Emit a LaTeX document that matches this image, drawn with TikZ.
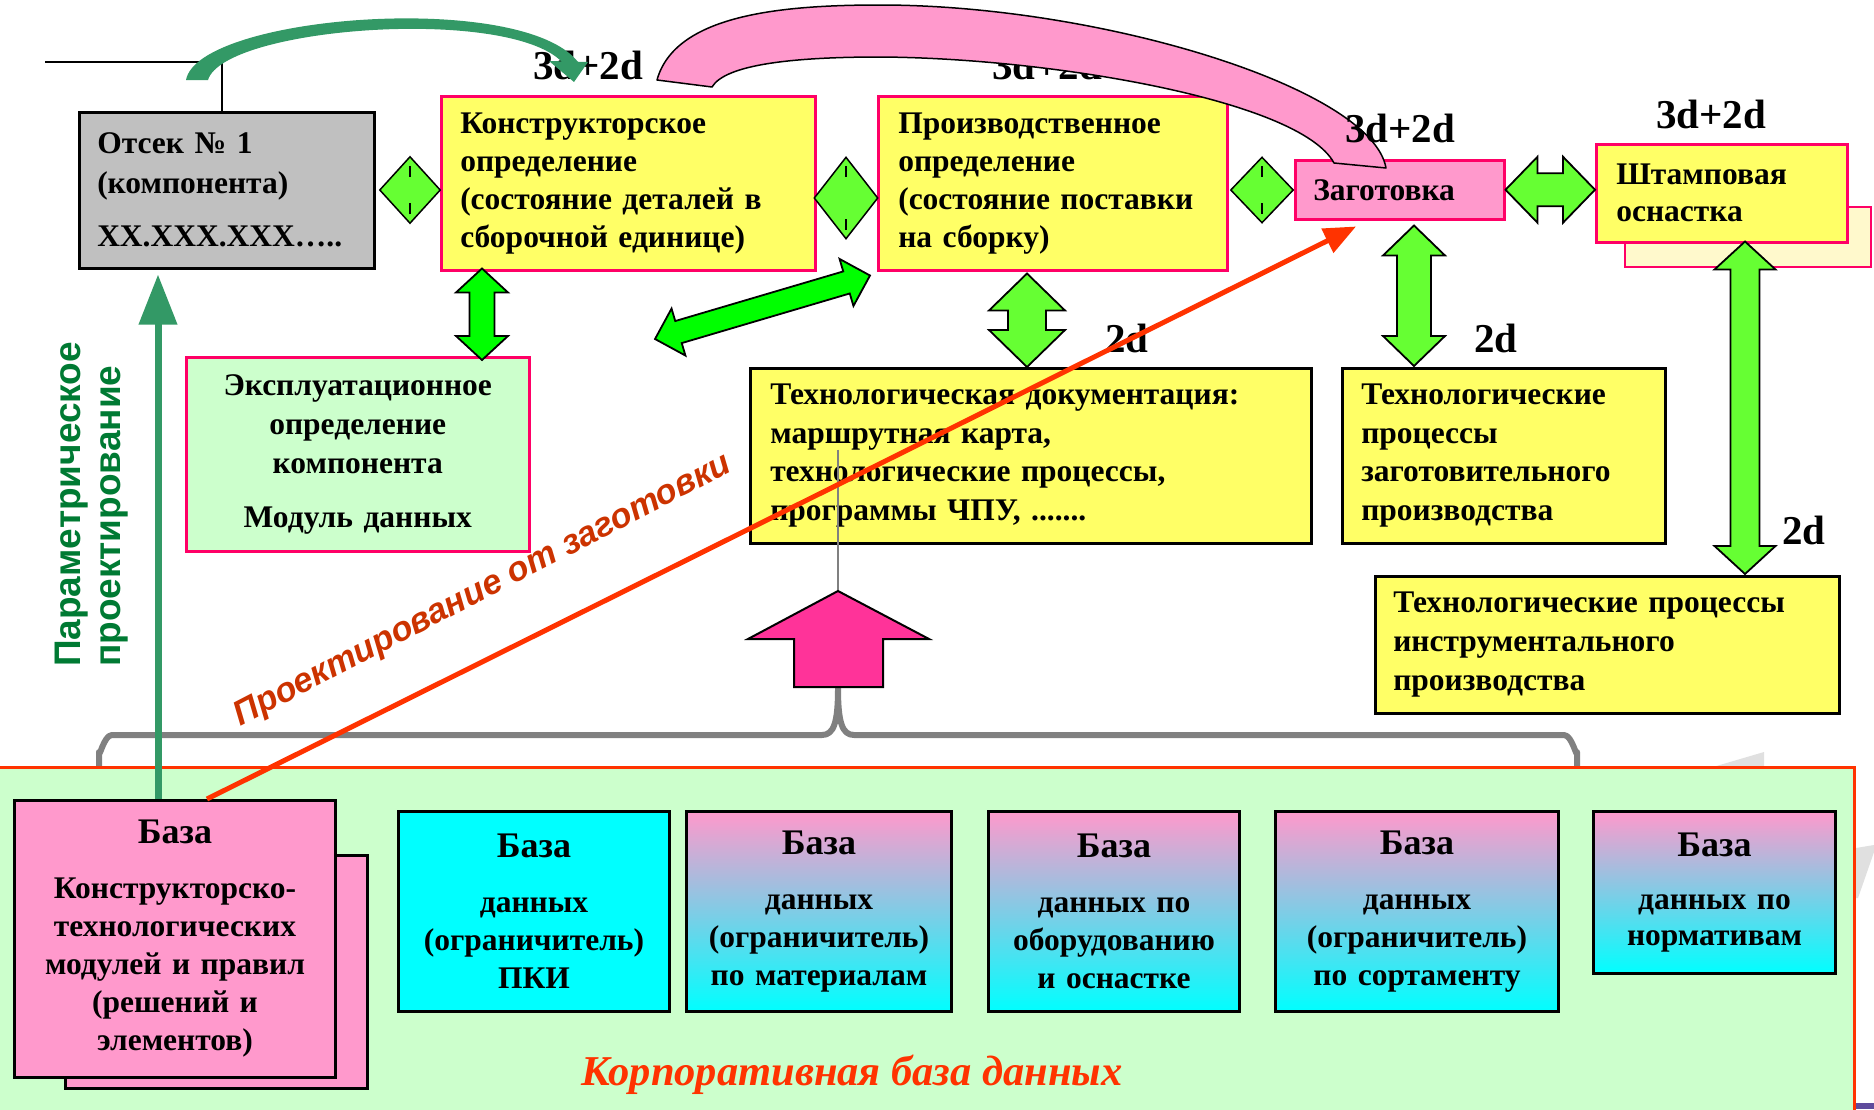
\documentclass[tikz,border=0pt]{standalone}
\usepackage{fontspec}
\setmainfont{Liberation Serif}
\newfontfamily\sansbold{Liberation Sans}
\usetikzlibrary{calc,shapes.geometric,arrows.meta}

\definecolor{boxyellow}{HTML}{FFFF66}
\definecolor{edgepink}{HTML}{FF0066}
\definecolor{softgreen}{HTML}{CCFFCC}
\definecolor{rosefill}{HTML}{FF99CC}
\definecolor{arrowgreen}{HTML}{66FF33}
\definecolor{puregreen}{HTML}{00FF00}
\definecolor{seagreen}{HTML}{339966}
\definecolor{redline}{HTML}{FF3300}
\definecolor{redtext}{HTML}{CC3300}
\definecolor{magentaarrow}{HTML}{FF3399}
\definecolor{bracegray}{HTML}{808080}
\definecolor{bggray}{HTML}{E0E0E0}
\definecolor{paramgreen}{RGB}{0,122,51}
\definecolor{creamfill}{HTML}{FFF9CC}
\definecolor{deskgray}{HTML}{C0C0C0}
\definecolor{cornerpurple}{HTML}{5E4B9C}
\definecolor{aqua}{HTML}{00FFFF}

\newcommand\cardfont{\fontsize{31.5}{38}\selectfont\bfseries}
\newcommand\basetitle{{\fontsize{36}{38}\selectfont База}\\[17pt]}

% block double arrow: tip, tip, head length, head half width, shaft half width, fill
\newcommand\dblarrow[6]{%
  \coordinate (dbA) at (#1);
  \coordinate (dbB) at (#2);
  \coordinate (dbH) at ($(dbA)!#3!(dbB)$);
  \coordinate (dbK) at ($(dbB)!#3!(dbA)$);
  \filldraw[fill=#6, blockedge] (dbA)
    -- ($(dbH)!#4!90:(dbB)$) -- ($(dbH)!#5!90:(dbB)$)
    -- ($(dbK)!#5!-90:(dbA)$) -- ($(dbK)!#4!-90:(dbA)$)
    -- (dbB)
    -- ($(dbK)!#4!90:(dbA)$) -- ($(dbK)!#5!90:(dbA)$)
    -- ($(dbH)!#5!-90:(dbB)$) -- ($(dbH)!#4!-90:(dbB)$) -- cycle;}

\begin{document}
\begin{tikzpicture}[x=1pt,y=-1pt,
  card/.style={draw=edgepink, line width=2.5pt, fill=boxyellow, inner sep=0pt,
    anchor=north west, align=left, font=\cardfont},
  dbcard/.style={draw=black, line width=3pt, inner sep=0pt, anchor=north west,
    align=center, font=\cardfont},
  grad/.style={dbcard, top color=rosefill, bottom color=aqua},
  gem/.style={diamond, draw=black, fill=arrowgreen, line width=1.5pt, inner sep=0pt},
  blockedge/.style={draw=black, line width=1.8pt, line join=miter},
  dlabel/.style={inner sep=0pt, font=\fontsize{41}{41}\selectfont\bfseries},
]
\useasboundingbox (0,0) rectangle (1874,1109);
\fill[white] (0,0) rectangle (1874,1109);

% faint background pieces
\fill[bggray] (1713,767) -- (1764,752) -- (1764,770) -- cycle;
\fill[bggray] (1850,849) -- (1874,845) -- (1874,852) -- (1858,898) -- (1850,898) -- cycle;

% brace collecting the databases
\draw[bracegray, line width=6pt, line join=round]
  (99,767) -- (99,752) to[out=-90,in=180] (112,735) -- (822,735)
  .. controls (834,735) and (838,722) .. (838,688)
  .. controls (838,722) and (842,735) .. (854,735) -- (1564,735)
  to[out=0,in=-90] (1577,752) -- (1577,767);

% corporate database panel
\filldraw[fill=softgreen, draw=redline, line width=3pt] (-5,767) rectangle (1854,1120);
\fill[cornerpurple] (1856,1103) rectangle (1874,1109);

% top row
\node[card, draw=black, fill=deskgray, minimum width=295pt, minimum height=156pt,
  text width=259pt, font=\fontsize{31.5}{40}\selectfont\bfseries] (otsek) at (78,111)
  {Отсек № 1\\(компонента)\\[13pt]XX.XXX.XXX…..};
\node[card, minimum width=374pt, minimum height=174pt, text width=336pt] (konstr) at (440,95)
  {Конструкторское\\определение\\(состояние деталей в\\сборочной единице)};
\node[card, minimum width=349pt, minimum height=174pt, text width=309pt] (prod) at (877,95)
  {Производственное\\определение\\(состояние поставки\\на сборку)};
\node[card, fill=rosefill, minimum width=209pt, minimum height=59pt, text width=173pt] (zag) at (1294,159)
  {Заготовка};
\filldraw[fill=creamfill, draw=edgepink, line width=2.5pt] (1625,207) rectangle (1871,267);
\node[card, minimum width=251pt, minimum height=98pt, text width=211pt,
  font=\fontsize{31.5}{37}\selectfont\bfseries] (shtamp) at (1595,143)
  {Штамповая\\оснастка};

% second row
\node[card, fill=softgreen, align=center, minimum width=343pt, minimum height=194pt,
  text width=323pt, font=\fontsize{31.5}{39}\selectfont\bfseries] (expl) at (185,356)
  {Эксплуатационное\\определение\\компонента\\[15pt]Модуль данных};
\node[card, draw=black, minimum width=561pt, minimum height=175pt, text width=521pt,
  font=\fontsize{31.5}{38.5}\selectfont\bfseries] (techdoc) at (749,367)
  {Технологическая документация:\\маршрутная карта,\\технологические процессы,\\программы ЧПУ, .......};
\node[card, draw=black, minimum width=323pt, minimum height=175pt, text width=285pt,
  font=\fontsize{31.5}{38.5}\selectfont\bfseries] (techzag) at (1341,367)
  {Технологические\\процессы\\заготовительного\\производства};
\node[card, draw=black, minimum width=464pt, minimum height=137pt, text width=428pt,
  font=\fontsize{31.5}{39}\selectfont\bfseries] (techinst) at (1374,575)
  {Технологические процессы\\инструментального\\производства};

% databases
\filldraw[fill=rosefill, draw=black, line width=3pt] (65,855) rectangle (367,1088);
\node[dbcard, fill=rosefill, minimum width=321pt, minimum height=277pt, text width=311pt] (kbase) at (13,799)
  {\basetitle Конструкторско-\\технологических\\модулей и правил\\(решений и\\элементов)};
\node[dbcard, fill=aqua, minimum width=271pt, minimum height=200pt, text width=261pt] (pki) at (397,810)
  {\basetitle данных\\(ограничитель)\\ПКИ};
\node[grad, minimum width=265pt, minimum height=200pt, text width=255pt] (mat) at (685,810)
  {\basetitle данных\\(ограничитель)\\по материалам};
\node[grad, minimum width=251pt, minimum height=200pt, text width=241pt] (equip) at (987,810)
  {\basetitle данных по\\оборудованию\\и оснастке};
\node[grad, minimum width=283pt, minimum height=200pt, text width=273pt] (sort) at (1274,810)
  {\basetitle данных\\(ограничитель)\\по сортаменту};
\node[grad, minimum width=242pt, minimum height=162pt, text width=232pt,
  font=\fontsize{31.5}{36}\selectfont\bfseries] (norm) at (1592,810)
  {\basetitle данных по\\нормативам};

\node[inner sep=0pt, font=\fontsize{42.5}{46}\selectfont\bfseries\itshape, text=redline] (corp) at (852,1075)
  {Корпоративная база данных};

% link from the compartment
\coordinate (tlstart) at (45,62);
\draw[line width=2pt] (tlstart) -| ($(otsek.north west)+(144,0)$);

% labels
\node[dlabel] (lab1) at (588,65) {3d+2d};
\node[dlabel] (lab2) at (1047,65) {3d+2d};

% wide pink arc to the blank
\filldraw[fill=rosefill, draw=black, line width=1.5pt, line join=round]
  (657,80) .. controls (675,15) and (780,5) .. (880,5)
  .. controls (1100,5) and (1372,88) .. (1386,168)
  -- (1334,163)
  .. controls (1300,100) and (1050,58) .. (880,57)
  .. controls (790,57) and (725,65) .. (712,87) -- cycle;

\node[dlabel] (lab3) at (1400,128) {3d+2d};
\node[dlabel] (lab4) at (1711,114) {3d+2d};
\node[dlabel] (lab5) at (1127,338) {2d};
\node[dlabel] (lab6) at (1496,338) {2d};
\node[dlabel] (lab7) at (1804,530) {2d};

% curved green arrow over the compartment
\fill[seagreen] (186,80) .. controls (198,15) and (522,-10) .. (578,62)
  -- (562,62) .. controls (508,6) and (224,27) .. (208,80) -- cycle;
\fill[seagreen] (549,61) -- (588,62) -- (574,82) -- cycle;

% diamond connectors
\node[gem, minimum width=61pt, minimum height=67pt] (dm1) at (410,190) {};
\node[gem, minimum width=64pt, minimum height=82pt] (dm2) at (846,198) {};
\node[gem, minimum width=63pt, minimum height=66pt] (dm3) at (1262,190) {};
\foreach \d in {dm1,dm2,dm3}{
  \draw[line width=1.2pt] ($(\d.north)+(0,10)$) -- ($(\d.north)+(0,21)$);
  \draw[line width=1.2pt] ($(\d.south)+(0,-10)$) -- ($(\d.south)+(0,-21)$);
}

% block double arrows
\coordinate (diagfree) at (655,339);
\dblarrow{$(konstr.south west)+(42,-3)$}{$(expl.north west)+(297,4)$}{24pt}{26pt}{12.5pt}{puregreen}
\dblarrow{diagfree}{$(prod.south west)+(-7,4)$}{24.5pt}{24.5pt}{11.5pt}{puregreen}
\dblarrow{$(prod.south west)+(150,2)$}{$(techdoc.north west)+(278,0)$}{37pt}{38pt}{19pt}{arrowgreen}
\dblarrow{$(zag.south west)+(120,5)$}{$(techzag.north west)+(73,-1)$}{30pt}{31pt}{17pt}{arrowgreen}
\dblarrow{$(shtamp.south west)+(150,-2)$}{$(techinst.north west)+(371,-1)$}{28pt}{30.5pt}{14.5pt}{arrowgreen}
\dblarrow{zag.east}{zag.east -| shtamp.west}{32pt}{33pt}{16.5pt}{arrowgreen}

% databases feed the documentation
\draw[bracegray, line width=2pt] ($(techdoc.south west)+(89,-95)$) -- ($(techdoc.south west)+(89,49)$);
\filldraw[fill=magentaarrow, draw=black, line width=2pt]
  (838,591) -- (929,639) -- (883,639) -- (883,687) -- (794,687) -- (794,639) -- (748,639) -- cycle;

% design directions
\draw[seagreen, line width=7pt, -{Triangle[length=50pt,width=37pt]}]
  ($(kbase.north west)+(145,0)$) -- ($(otsek.south west)+(80,5)$);
\draw[redline, line width=5pt, -{Triangle[length=32pt,width=26pt]}]
  ($(kbase.north west)+(194,0)$) -- ($(zag.south west)+(62,6)$);

\node[rotate=90, anchor=west, align=left, inner sep=0pt, text=paramgreen,
  font=\sansbold\fontsize{37}{40}\selectfont\bfseries] (param) at (92,667)
  {Параметрическое\\проектирование};
\node[rotate=27.4, inner sep=0pt, text=redtext,
  font=\sansbold\fontsize{34.5}{40}\selectfont\bfseries\itshape] (fromblank) at (483,591)
  {Проектирование от заготовки};
\end{tikzpicture}
\end{document}
